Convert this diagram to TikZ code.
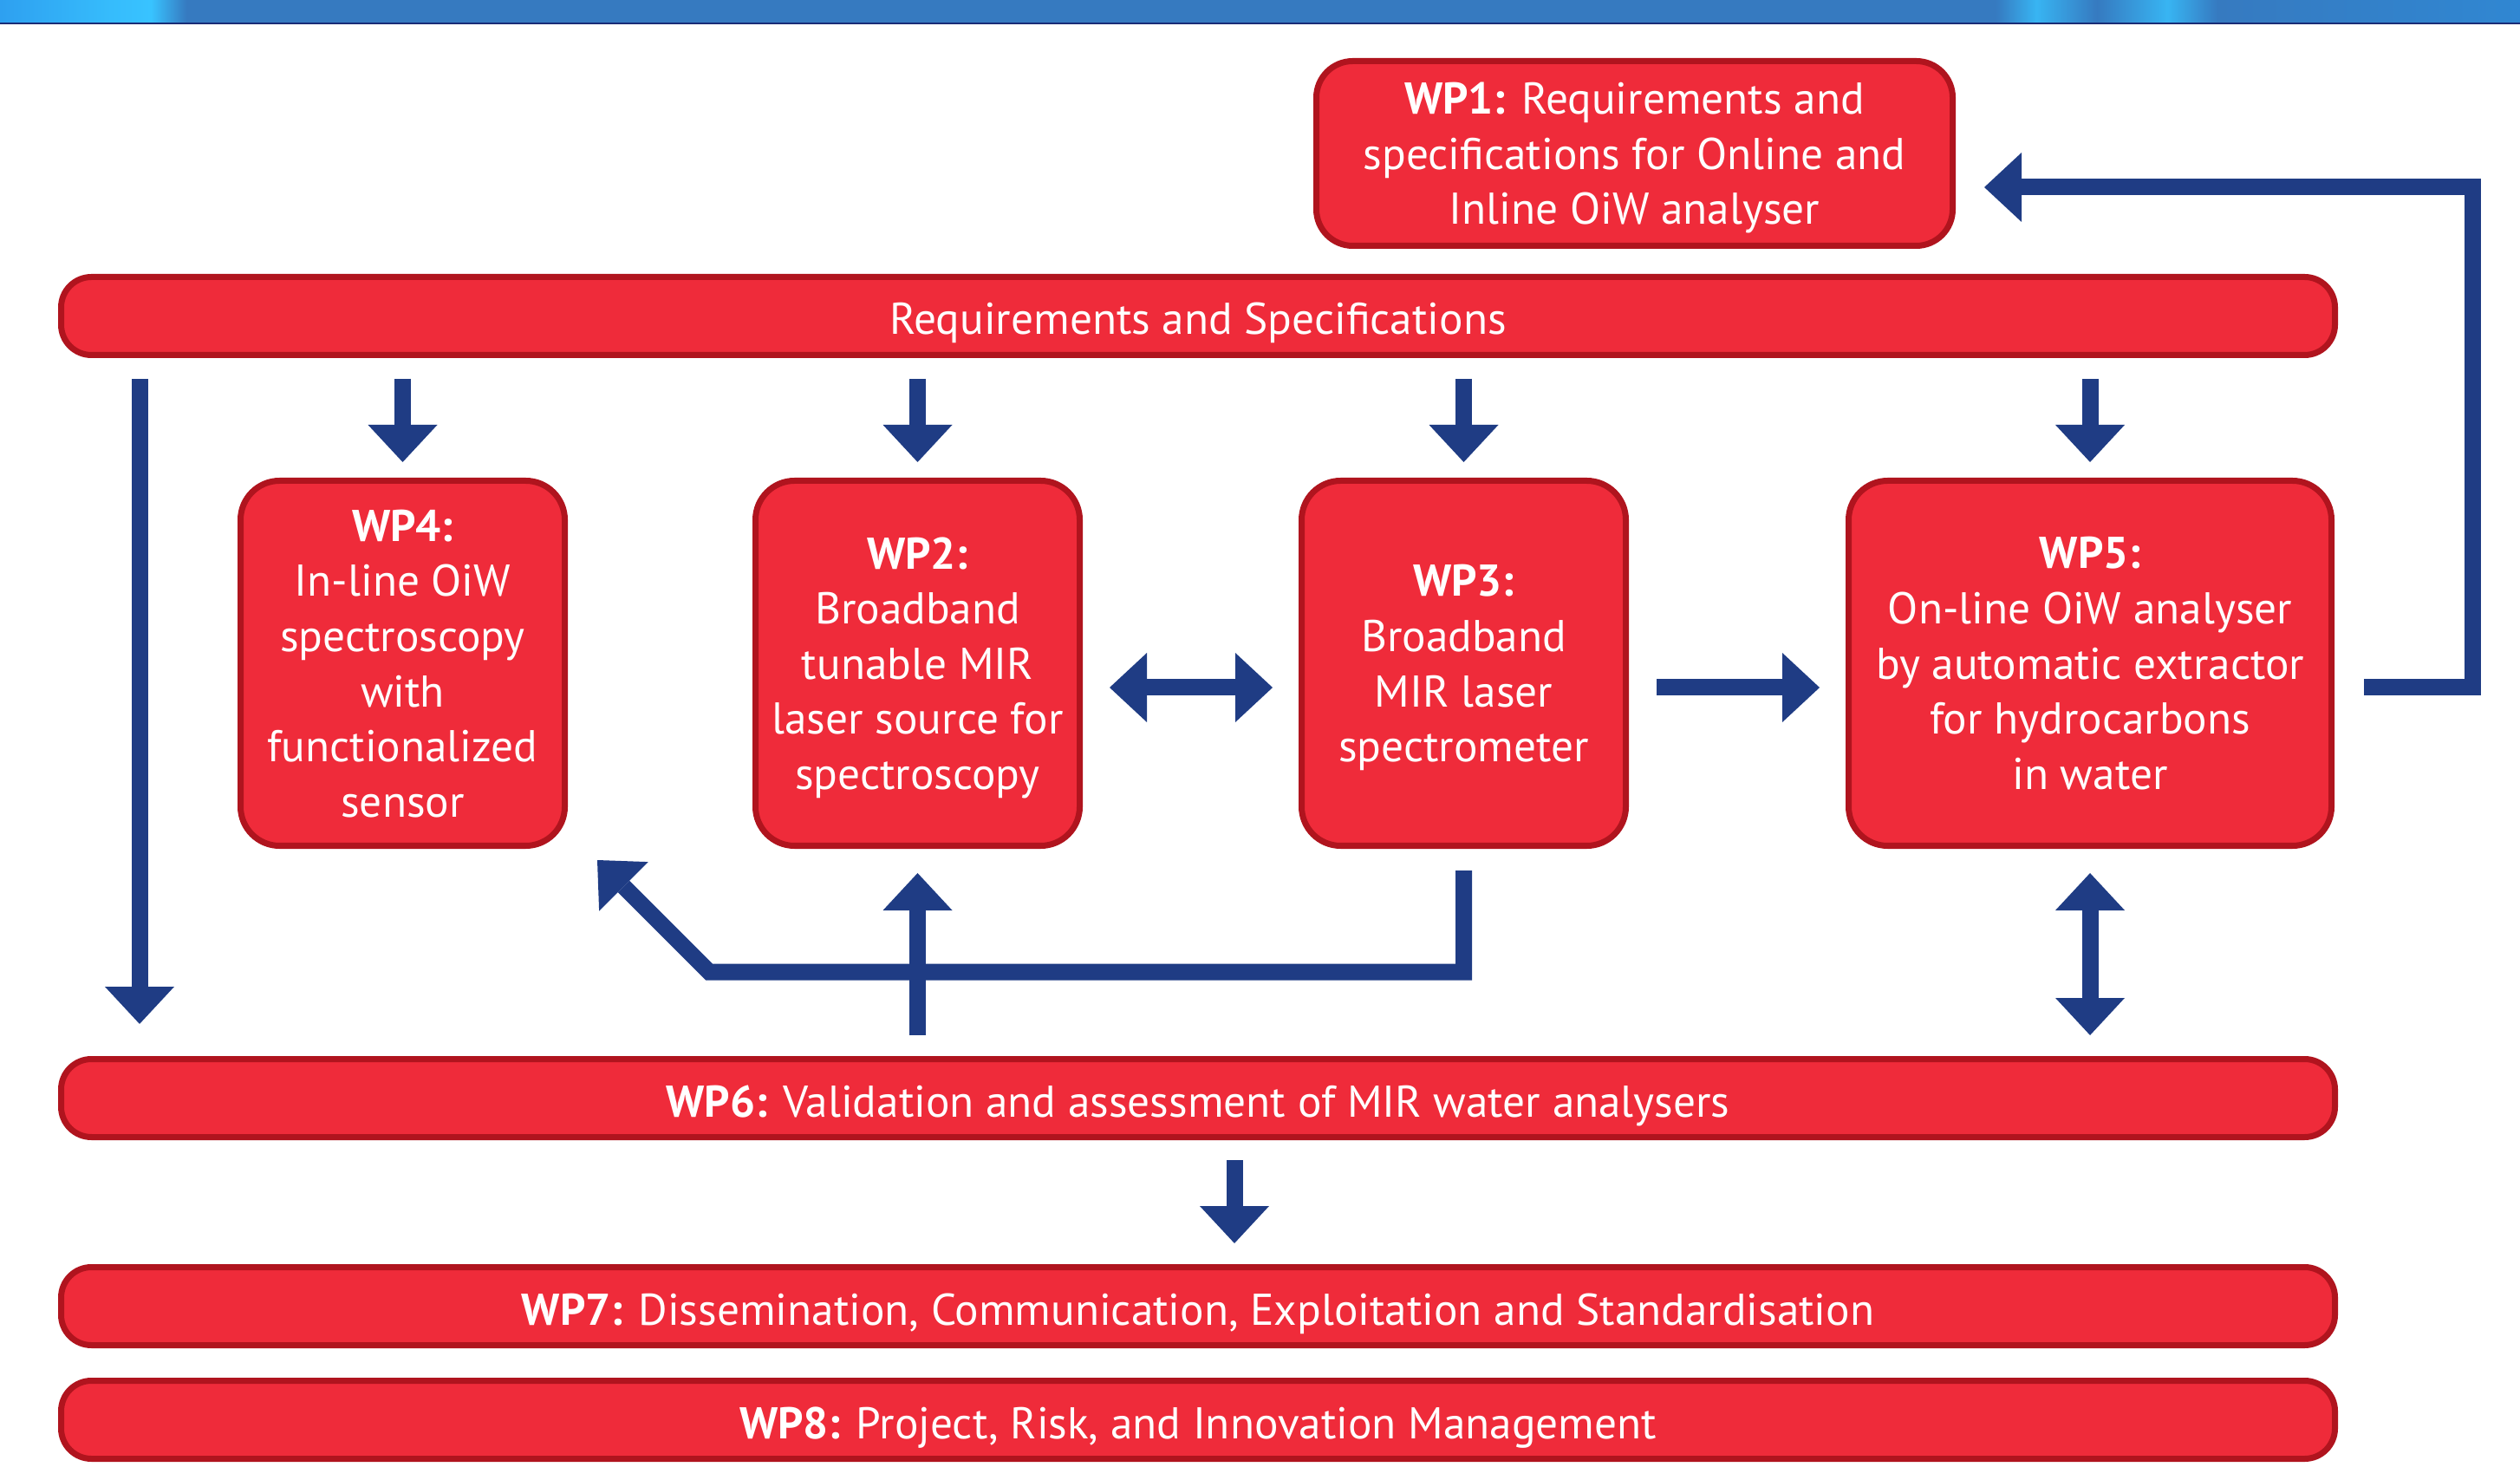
\documentclass[tikz,border=0pt]{standalone}
\usepackage{fontspec}
\setmainfont{PT Sans}
\usepackage{tikz}
\usetikzlibrary{arrows.meta, positioning, calc}
\definecolor{wpred}{RGB}{239,43,58}
\definecolor{wpedge}{RGB}{176,20,30}
\definecolor{flowblue}{RGB}{31,60,132}
\definecolor{bannerpale}{RGB}{46,160,240}
\definecolor{bannercyan}{RGB}{56,195,255}
\definecolor{bannermid}{RGB}{54,122,192}
\definecolor{bannerend}{RGB}{48,135,210}
\definecolor{bannerline}{RGB}{26,44,118}
\pgfdeclarehorizontalshading{bannershade}{100bp}{%
  color(0bp)=(bannerpale); color(25bp)=(bannerpale);
  color(27.2bp)=(bannercyan!80!bannerpale); color(28bp)=(bannercyan);
  color(28.7bp)=(bannermid); color(64.6bp)=(bannermid);
  color(65.4bp)=(bannercyan!80!bannermid); color(66.6bp)=(bannermid);
  color(68bp)=(bannercyan!80!bannermid); color(69bp)=(bannermid);
  color(75bp)=(bannerend); color(100bp)=(bannerend)}
\tikzset{
  wpbox/.style={
    draw=wpedge,
    fill=wpred,
    line width=0.07cm,
    rounded corners=0.45cm,
    align=center,
    text=white,
    text depth=0pt,
    inner sep=0pt,
    minimum width=3.74cm,
    minimum height=4.21cm
  },
  wpbar/.style={
    draw=wpedge,
    fill=wpred,
    line width=0.07cm,
    rounded corners=0.35cm,
    align=center,
    text=white,
    text height=0.43cm,
    text depth=0pt,
    inner sep=0pt,
    minimum width=26.23cm,
    minimum height=0.90cm
  },
  arrow/.style={draw=flowblue, line width=0.19cm,
    -{Triangle[length=0.43cm, width=0.8cm, line width=0pt]}},
  twoway/.style={arrow,
    {Triangle[length=0.43cm, width=0.8cm, line width=0pt]}-{Triangle[length=0.43cm, width=0.8cm, line width=0pt]}}
}

\begin{document}
\begin{tikzpicture}[
    font=\fontsize{14.6pt}{18.1pt}\selectfont
]
\useasboundingbox (0,0) rectangle (29.07,16.91);

% header strip
\shade[shading=bannershade] (0,16.65) rectangle (29.07,16.91);
\draw[bannerline, line width=0.025cm] (0,16.64) -- (29.07,16.64);

\node[wpbar] (reqs) at (13.82,13.265) {Requirements and Specifications};

\node[wpbox, above left=0.29cm and 4.41cm of reqs.north east,
      minimum width=7.34cm, minimum height=2.13cm, rounded corners=0.42cm] (wp1)
{\textbf{WP1:} Requirements and\\specifications for Online and\\Inline OiW analyser};

\node[wpbox, below right=1.38cm and 2.07cm of reqs.south west] (wp4)
{\textbf{WP4:}\\In-line OiW\\spectroscopy\\with\\functionalized\\sensor};

\node[wpbox, right=2.13cm of wp4] (wp2)
{\textbf{WP2:}\\Broadband\\tunable MIR\\laser source for\\spectroscopy};

\node[wpbox, right=2.49cm of wp2] (wp3)
{\textbf{WP3:}\\Broadband\\MIR laser\\spectrometer};

\node[wpbox, right=2.50cm of wp3, minimum width=5.57cm] (wp5)
{\textbf{WP5:}\\On-line OiW analyser\\by automatic extractor\\for hydrocarbons\\in water};

\node[wpbar, below=8.05cm of reqs] (wp6)
{\textbf{WP6:} Validation and assessment of MIR water analysers};

\node[wpbar, below=1.43cm of wp6] (wp7)
{\textbf{WP7:} Dissemination, Communication, Exploitation and Standardisation};

\node[wpbar, below=0.34cm of wp7] (wp8)
{\textbf{WP8:} Project, Risk, and Innovation Management};

% requirements feed every work package
\draw[arrow] ([xshift=0.94cm, yshift=-0.24cm]reqs.south west) -- ([xshift=0.94cm, yshift=0.37cm]wp6.north west);
\draw[arrow] ([yshift=-0.24cm]reqs.south -| wp4) -- ([yshift=0.18cm]wp4.north);
\draw[arrow] ([yshift=-0.24cm]reqs.south -| wp2) -- ([yshift=0.18cm]wp2.north);
\draw[arrow] ([yshift=-0.24cm]reqs.south -| wp3) -- ([yshift=0.18cm]wp3.north);
\draw[arrow] ([yshift=-0.24cm]reqs.south -| wp5) -- ([yshift=0.18cm]wp5.north);

\draw[twoway] ([shift={(0.31,-0.28)}]wp2.east) -- ([shift={(-0.30,-0.28)}]wp3.west);
\draw[arrow] ([shift={(0.32,-0.28)}]wp3.east) -- ([shift={(-0.30,-0.28)}]wp5.west);
\draw[arrow] ([shift={(0.34,-0.28)}]wp5.east) -- ++(1.25,0) |- ([shift={(0.33,-0.39)}]wp1.east);

% feedback from the spectrometer to the in-line sensor
\coordinate (wp4back) at ([shift={(0.34,-0.13)}]wp4.south east);
\draw[arrow] ([yshift=-0.25cm]wp3.south) |- ([shift={(1.29,-1.29)}]wp4back) -- (wp4back);

\draw[arrow] ([yshift=0.24cm]wp6.north -| wp2) -- ([yshift=-0.28cm]wp2.south);
\draw[twoway] ([yshift=-0.28cm]wp5.south) -- ([yshift=0.24cm]wp6.north -| wp5);
\draw[arrow] ([shift={(0.42,-0.23)}]wp6.south) -- ([shift={(0.42,0.24)}]wp7.north);

\end{tikzpicture}
\end{document}
